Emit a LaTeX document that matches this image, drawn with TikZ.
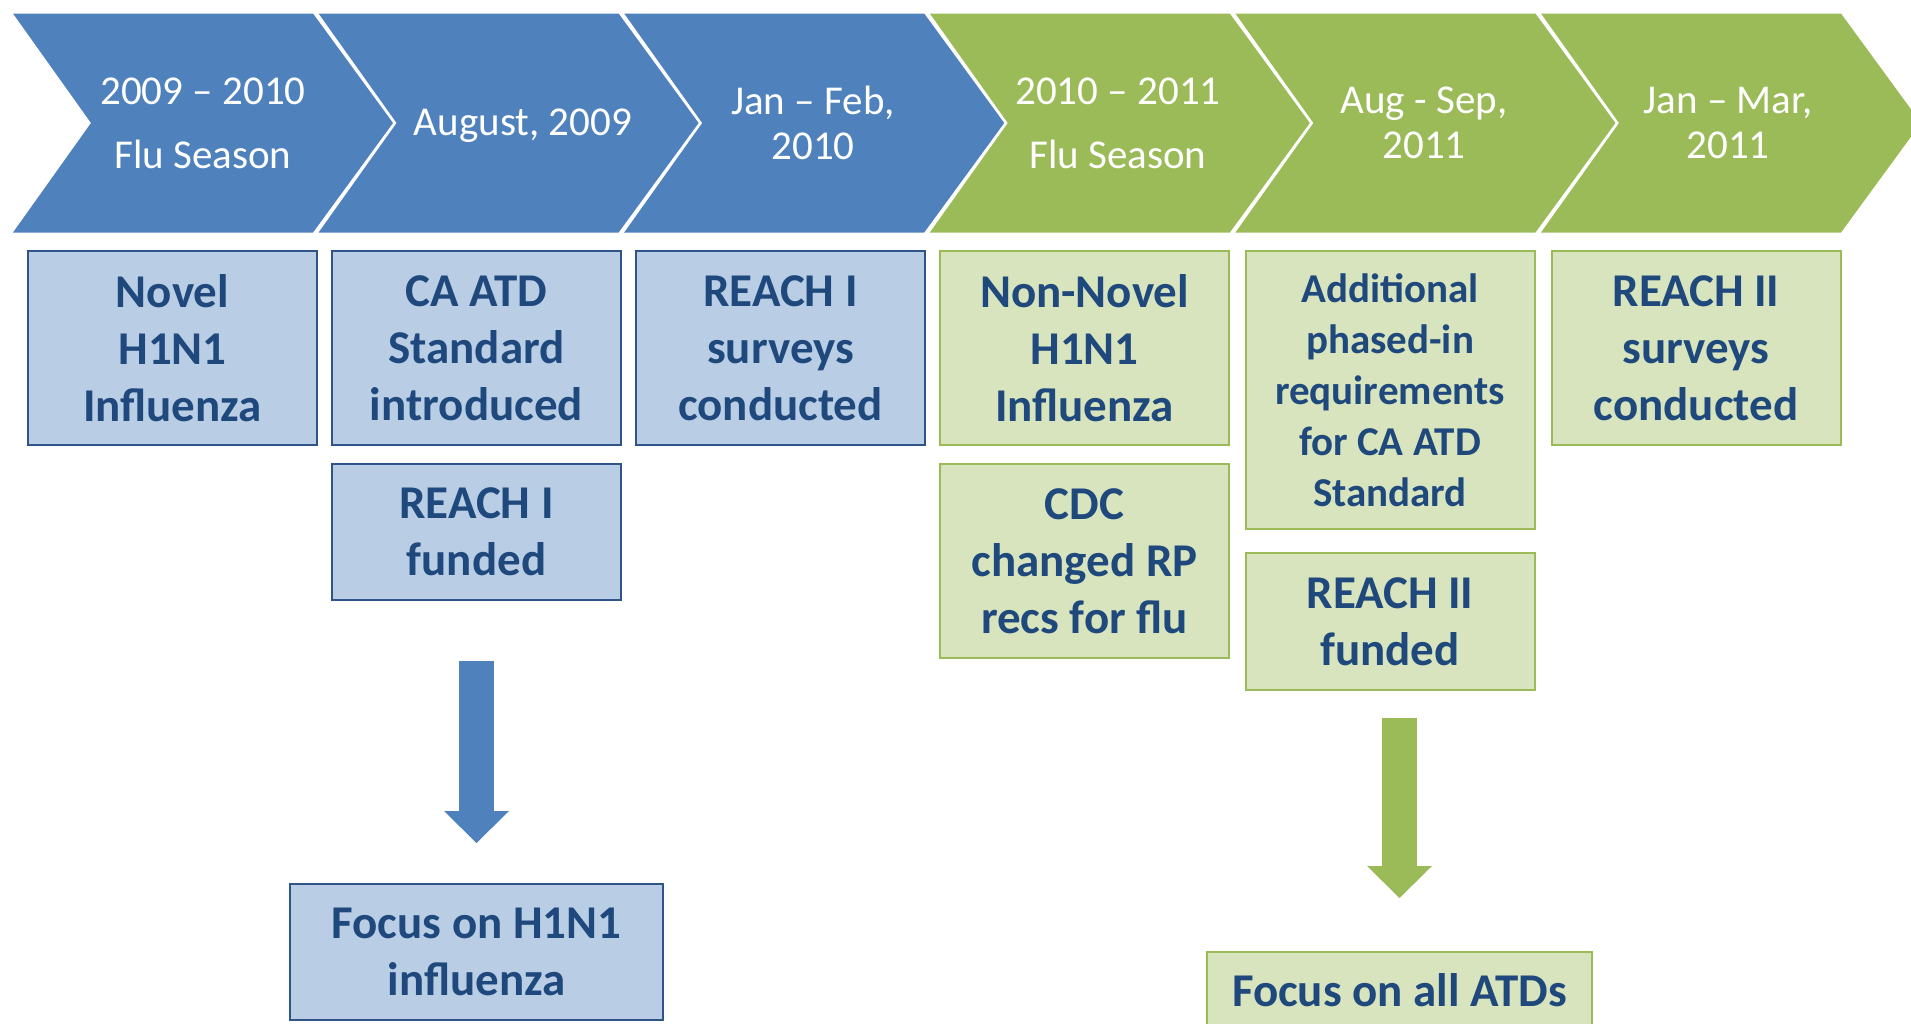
\documentclass[tikz,border=0pt]{standalone}
\usepackage{fontspec}
\setmainfont{Carlito}
\usetikzlibrary{arrows.meta,positioning}
\definecolor{chevblue}{HTML}{4F81BD}
\definecolor{chevgreen}{HTML}{9BBB59}
\definecolor{boxblue}{HTML}{B9CDE5}
\definecolor{boxgreen}{HTML}{D7E4BD}
\definecolor{edgeblue}{HTML}{2F5487}
\definecolor{textblue}{HTML}{1F497D}

\begin{document}
\begin{tikzpicture}[x=1pt,y=-1pt]
\tikzstyle{stage}=[text=white,align=center,inner sep=0pt,font=\fontsize{41}{45}\selectfont]
\tikzstyle{event}=[line width=2pt,inner sep=0pt,align=center,text=textblue,minimum width=289pt,font=\bfseries\fontsize{47}{57}\selectfont]
\tikzstyle{blueevent}=[event,draw=edgeblue,fill=boxblue]
\tikzstyle{greenevent}=[event,draw=chevgreen,fill=boxgreen]
\tikzstyle{fatarrow}=[line width=35pt,-{Triangle[length=32pt 0 0,width=65pt 0 0,line width=0pt]}]
\useasboundingbox (0,0) rectangle (1911,1023);
% timeline chevrons
\foreach \k/\col in {0/chevblue,1/chevblue,2/chevblue,3/chevgreen,4/chevgreen,5/chevgreen}
  \fill[\col] ({13+305.6*\k},13.5) -- ++(300,0) -- ++(80,109.5) -- ++(-80,109.5) -- ++(-300,0) -- ++(78,-109.5) -- cycle;
\node[stage] (s1) at (203,123) {2009 – 2010\\[19pt]Flu Season};
\node[stage] (s2) at (523,126) {August, 2009};
\node[stage] (s3) at (813,123) {Jan – Feb,\\2010};
\node[stage] (s4) at (1118,123) {2010 – 2011\\[19pt]Flu Season};
\node[stage] (s5) at (1424,123) {Aug - Sep,\\2011};
\node[stage] (s6) at (1728,123) {Jan – Mar,\\2011};
% events
\node[blueevent,minimum height=194pt] (novel) at (172.5,348) {Novel\\H1N1\\Influenza};
\node[blueevent,minimum height=194pt] (std) at (476.5,348) {CA ATD\\Standard\\introduced};
\node[blueevent,minimum height=194pt] (surv1) at (780.5,348) {REACH I\\surveys\\conducted};
\node[greenevent,minimum height=194pt] (nonnovel) at (1084.5,348) {Non-Novel\\H1N1\\Influenza};
\node[greenevent,minimum height=278pt,font=\bfseries\fontsize{41}{51}\selectfont] (phase) at (1390,390) {Additional\\phased-in\\requirements\\for CA ATD\\Standard};
\node[greenevent,minimum height=194pt] (surv2) at (1696,348) {REACH II\\surveys\\conducted};
\node[blueevent,minimum height=136pt,below=17pt of std] (fund1) {REACH I\\funded};
\node[greenevent,minimum height=194pt,below=17pt of nonnovel] (cdc) {CDC\\changed RP\\recs for flu};
\node[greenevent,minimum height=137pt,below=22pt of phase] (fund2) {REACH II\\funded};
\node[blueevent,minimum width=373pt,minimum height=136pt] (focus1) at (476.5,952) {Focus on H1N1\\influenza};
\node[greenevent,minimum width=385pt,minimum height=76pt] (focus2) at (1399.5,990) {Focus on all ATDs};
% big arrows
\draw[fatarrow,chevblue,shorten <=60pt,shorten >=40pt] (fund1) -- (focus1);
\draw[fatarrow,chevgreen,shorten <=27pt,shorten >=53pt] (fund2.south -| focus2) -- (focus2);
\end{tikzpicture}
\end{document}
